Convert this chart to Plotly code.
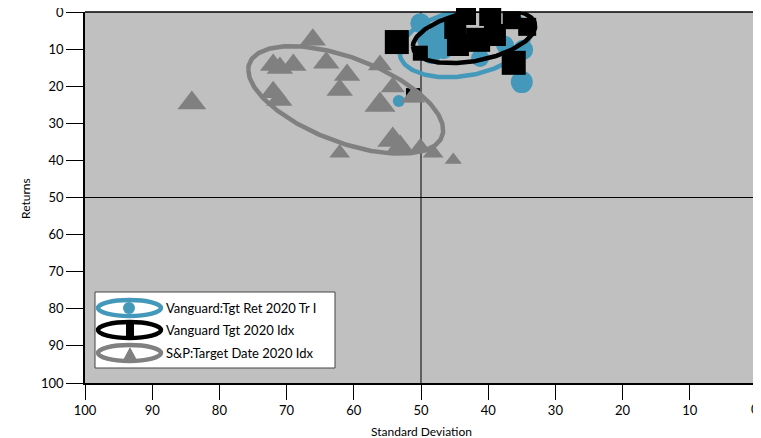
import numpy as np
import plotly.graph_objects as go

# Vanguard:Tgt Ret 2020 Tr I  (circles)
ret_sd = [50.1, 49.1, 46.7, 48.4, 41.2, 35.0, 34.8, 47.2, 37.5, 53.3]
ret_ret = [3.0, 7.5, 9.7, 11.6, 12.4, 18.9, 10.2, 4.9, 8.9, 24.0]
ret_size = [20, 20, 22, 18, 18, 22, 20, 20, 18, 12]

# Vanguard Tgt 2020 Idx  (squares)
idx_sd = [53.6, 50.1, 43.3, 39.7, 36.5, 34.2, 44.9, 44.5, 41.5, 39.0, 36.2, 51.2]
idx_ret = [8.1, 11.1, 0.8, 0.8, 2.2, 4.0, 4.3, 8.9, 7.5, 6.2, 13.7, 22.4]
idx_size = [24, 15, 20, 22, 18, 18, 22, 22, 24, 22, 24, 14]

# S&P:Target Date 2020 Idx  (triangles)
sp_sd = [84.1, 66.1, 72.0, 71.0, 69.0, 72.0, 71.1, 64.1, 61.0, 62.1,
         56.1, 54.2, 56.1, 51.2, 54.2, 53.1, 62.1, 50.1, 48.2, 45.2]
sp_ret = [24.5, 7.5, 14.3, 15.1, 14.3, 21.6, 23.7, 13.7, 17.0, 21.0,
          14.3, 20.2, 25.1, 23.0, 34.5, 36.4, 38.0, 36.4, 38.0, 39.9]
sp_size = [25, 23, 23, 23, 23, 23, 23, 23, 23, 23,
           21, 21, 27, 21, 27, 25, 18, 18, 18, 15]

# ellipse summaries: centre, half-extents, phase (deg)
ell_names = ["Vanguard:Tgt Ret 2020 Tr I", "Vanguard Tgt 2020 Idx", "S&P:Target Date 2020 Idx"]
ell_cx = [43.5, 42.1, 61.2]
ell_cy = [8.4, 6.5, 23.7]
ell_rx = [9.7, 9.1, 14.5]
ell_ry = [9.2, 7.3, 14.5]
ell_phase = [75, 68, 124]

ticks = list(range(0, 101, 10))
colors = ["#4499bb", "#000000", "#808080"]
FONT = "Lato"

fig = go.Figure()

def ellipse(i):
    t = np.linspace(0, 2 * np.pi, 240)
    x = ell_cx[i] + ell_rx[i] * np.cos(t)
    y = ell_cy[i] + ell_ry[i] * np.cos(t - np.radians(ell_phase[i]))
    return go.Scatter(x=x, y=y, mode="lines", line=dict(color=colors[i], width=4.5),
                      showlegend=False, hoverinfo="skip", cliponaxis=False)

fig.add_trace(go.Scatter(x=ret_sd, y=ret_ret, mode="markers", name=ell_names[0], cliponaxis=False,
                         marker=dict(symbol="circle", size=ret_size, color=colors[0], opacity=1, line_width=0)))
fig.add_trace(ellipse(0))
fig.add_trace(go.Scatter(x=idx_sd, y=idx_ret, mode="markers", name=ell_names[1], cliponaxis=False,
                         marker=dict(symbol="square", size=idx_size, color=colors[1], opacity=1, line_width=0)))
fig.add_trace(ellipse(1))
fig.add_trace(go.Scatter(x=sp_sd, y=sp_ret, mode="markers", name=ell_names[2], cliponaxis=False,
                         marker=dict(symbol="triangle-up", size=sp_size, color=colors[2], opacity=1, line_width=0)))
fig.add_trace(ellipse(2))

# plot area in page pixels: x 85..757, y 12..383 (page body has an 8px margin)
def px(x):
    return (x - 85) / 672.0

def py(y):
    return (383 - y) / 371.0

shapes = [
    dict(type="line", xref="x", yref="paper", x0=50, x1=50, y0=0, y1=1, line=dict(color="black", width=1), layer="below"),
    dict(type="line", xref="paper", yref="y", x0=0, x1=1, y0=50, y1=50, line=dict(color="black", width=1), layer="below"),
    dict(type="line", xref="paper", yref="paper", x0=0, x1=1, y0=1, y1=1, line=dict(color="black", width=1.5)),
    dict(type="line", xref="paper", yref="paper", x0=1, x1=1, y0=0, y1=1, line=dict(color="#6e6e6e", width=2)),
    # end tick for x = 0
    dict(type="line", xref="x", yref="paper", x0=ticks[0], x1=ticks[0], y0=0, y1=py(398),
         line=dict(color="black", width=1)),
    # legend box
    dict(type="rect", xref="paper", yref="paper", x0=px(95), x1=px(335), y0=py(368), y1=py(292),
         line=dict(color="#444444", width=1), fillcolor="white"),
]
annotations = [
    dict(x=0.5, y=py(431), xref="paper", yref="paper", text="Standard Deviation", showarrow=False,
         xanchor="center", yanchor="middle", font=dict(family=FONT, size=12)),
    dict(x=px(25), y=py(199), xref="paper", yref="paper", text="Returns", showarrow=False, textangle=-90,
         xanchor="center", yanchor="middle", font=dict(family=FONT, size=12)),
    dict(x=ticks[0], y=py(409), xref="x", yref="paper", text=str(ticks[0]), showarrow=False,
         xanchor="center", xshift=-2, yanchor="middle", font=dict(family=FONT, size=13)),
]
rows = [308, 330, 353]
for i, yc in enumerate(rows):
    shapes.append(dict(type="circle", xref="paper", yref="paper", x0=px(98), x1=px(161),
                       y0=py(yc + 8), y1=py(yc - 8), line=dict(color=colors[i], width=4.5)))
    annotations.append(dict(x=px(164), y=py(yc), xref="paper", yref="paper", text=ell_names[i],
                            showarrow=False, xanchor="left", yanchor="middle",
                            font=dict(family=FONT, size=13, color="black")))
# legend marker glyphs
shapes.append(dict(type="circle", xref="paper", yref="paper", x0=px(123), x1=px(135),
                   y0=py(rows[0] + 6), y1=py(rows[0] - 6), fillcolor=colors[0], line_width=0))
shapes.append(dict(type="rect", xref="paper", yref="paper", x0=px(126), x1=px(134),
                   y0=py(rows[1] + 8), y1=py(rows[1] - 8), fillcolor=colors[1], line_width=0))
shapes.append(dict(type="path", xref="paper", yref="paper",
                   path="M %f,%f L %f,%f L %f,%f Z" % (px(122), py(rows[2] + 9), px(138), py(rows[2] + 9),
                                                     px(130), py(rows[2] - 6)),
                   fillcolor=colors[2], line_width=0))

fig.update_layout(
    width=753, height=430,
    margin=dict(l=77, r=4, t=4, b=55),
    paper_bgcolor="white", plot_bgcolor="#c0c0c0",
    font=dict(family=FONT, size=13, color="black"),
    showlegend=False,
    shapes=shapes, annotations=annotations,
    xaxis=dict(range=[100, 0], tickvals=ticks, ticks="outside", ticklen=15,
               tickcolor="black", showline=True, linecolor="black", linewidth=1.5,
               showgrid=False, zeroline=False, automargin=False, ticklabeloverflow="allow"),
    yaxis=dict(range=[100, 0], tickvals=ticks, ticks="outside", ticklen=17,
               tickcolor="black", showline=True, linecolor="black", linewidth=1.5,
               showgrid=False, zeroline=False, automargin=False, ticklabeloverflow="allow"),
)

fig.write_html("out.html")
